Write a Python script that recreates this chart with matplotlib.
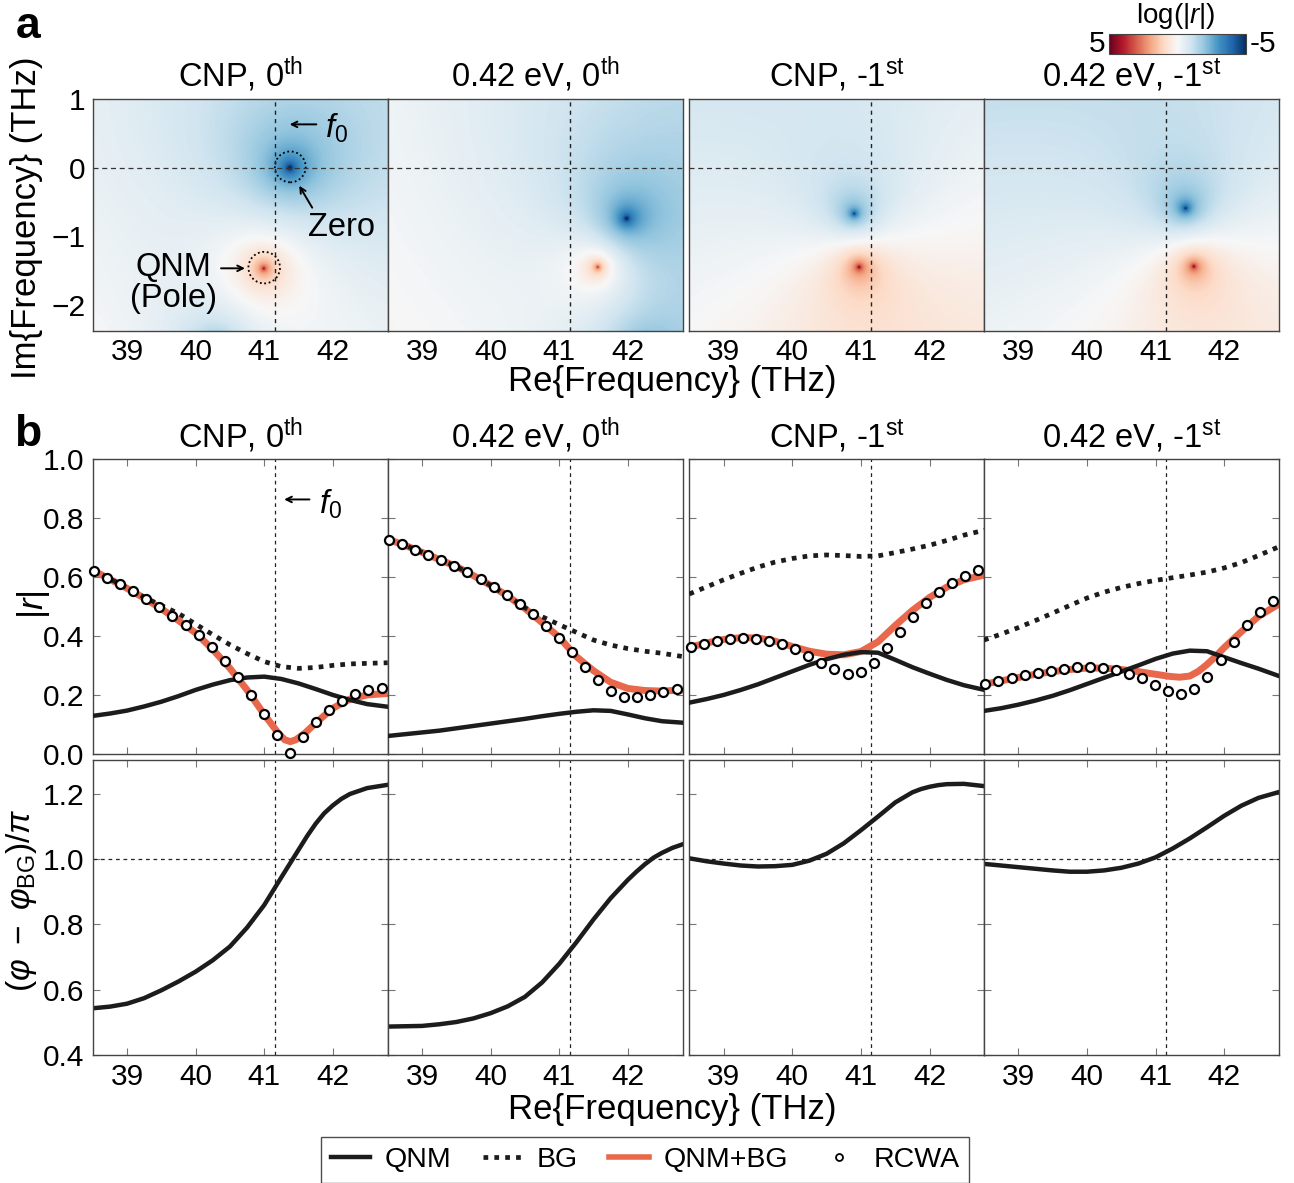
import numpy as np
import matplotlib.pyplot as plt
from matplotlib.lines import Line2D
from matplotlib.patches import Ellipse
from matplotlib.cm import ScalarMappable
from matplotlib.colors import Normalize

plt.rcParams['font.family'] = 'Liberation Sans'
plt.rcParams['mathtext.fontset'] = 'custom'
plt.rcParams['mathtext.rm'] = 'Liberation Sans'
plt.rcParams['mathtext.it'] = 'Liberation Sans:italic'
plt.rcParams['mathtext.bf'] = 'Liberation Sans:bold'

titles = ['CNP, 0$^{\\rm th}$', '0.42 eV, 0$^{\\rm th}$',
          'CNP, -1$^{\\rm st}$', '0.42 eV, -1$^{\\rm st}$']
f0 = 41.15

# complex-plane zeros and QNM poles (THz)
zeros_re = [41.37, 41.98, 40.91, 41.44]
zeros_im = [0.0, -0.74, -0.67, -0.59]
poles_re = [40.99, 41.56, 40.98, 41.56]
poles_im = [-1.47, -1.45, -1.45, -1.44]
# weaker zero/pole pairs sitting just below the plotted window
extra_zeros = [[40.3 - 2.65j], [42.25 - 2.8j], [], []]
extra_poles = [[40.3 - 4.6j], [42.25 - 4.6j], [], []]
bg_level = [-0.15, -0.3, -0.3, -0.6]
bg_slope_re = [-0.1, -0.15, 0.1, 0.1]
bg_slope_im = [0.0, 0.0, -0.17, -0.2]

# spectra on the real axis
freq = [38.5, 38.75, 39.0, 39.25, 39.5, 39.75, 40.0, 40.25, 40.5, 40.75,
        41.0, 41.25, 41.5, 41.75, 42.0, 42.25, 42.5, 42.8]

qnm_r = [
    [0.129, 0.137, 0.147, 0.161, 0.177, 0.196, 0.217, 0.235, 0.250, 0.259,
     0.262, 0.254, 0.239, 0.220, 0.200, 0.183, 0.169, 0.160],
    [0.061, 0.067, 0.073, 0.079, 0.087, 0.095, 0.103, 0.111, 0.119, 0.128,
     0.136, 0.143, 0.148, 0.146, 0.134, 0.121, 0.111, 0.106],
    [0.174, 0.186, 0.200, 0.217, 0.236, 0.258, 0.280, 0.302, 0.321, 0.336,
     0.345, 0.343, 0.319, 0.294, 0.272, 0.251, 0.233, 0.217],
    [0.146, 0.155, 0.167, 0.181, 0.197, 0.216, 0.237, 0.258, 0.279, 0.300,
     0.322, 0.340, 0.350, 0.348, 0.328, 0.308, 0.289, 0.264],
]
bg_r = [
    [0.622, 0.593, 0.563, 0.531, 0.503, 0.476, 0.440, 0.404, 0.370, 0.340,
     0.313, 0.296, 0.290, 0.293, 0.300, 0.305, 0.307, 0.309],
    [0.727, 0.707, 0.683, 0.659, 0.635, 0.604, 0.571, 0.535, 0.495, 0.465,
     0.438, 0.412, 0.386, 0.369, 0.357, 0.348, 0.341, 0.330],
    [0.542, 0.566, 0.590, 0.612, 0.633, 0.650, 0.662, 0.671, 0.674, 0.672,
     0.669, 0.671, 0.682, 0.694, 0.707, 0.723, 0.741, 0.758],
    [0.386, 0.406, 0.428, 0.452, 0.477, 0.503, 0.528, 0.548, 0.564, 0.577,
     0.588, 0.597, 0.606, 0.616, 0.630, 0.648, 0.672, 0.702],
]
sum_freq = [
    [38.5, 38.75, 39.0, 39.25, 39.5, 39.75, 40.0, 40.25, 40.5, 40.75, 41.0,
     41.2, 41.3, 41.38, 41.46, 41.6, 41.75, 42.0, 42.25, 42.5, 42.8],
    freq,
    freq,
    [38.5, 38.75, 39.0, 39.25, 39.5, 39.75, 40.0, 40.25, 40.5, 40.75, 41.0,
     41.2, 41.35, 41.5, 41.625, 41.75, 41.875, 42.0, 42.25, 42.5, 42.8],
]
sum_r = [
    [0.622, 0.592, 0.561, 0.528, 0.492, 0.452, 0.410, 0.354, 0.290, 0.217,
     0.134, 0.072, 0.048, 0.042, 0.048, 0.072, 0.105, 0.155, 0.186, 0.200,
     0.205],
    [0.727, 0.707, 0.683, 0.659, 0.635, 0.604, 0.571, 0.535, 0.493, 0.445,
     0.395, 0.330, 0.282, 0.243, 0.222, 0.215, 0.213, 0.217],
    [0.361, 0.376, 0.388, 0.394, 0.393, 0.382, 0.364, 0.348, 0.338, 0.336,
     0.347, 0.380, 0.435, 0.486, 0.530, 0.565, 0.590, 0.606],
    [0.236, 0.248, 0.259, 0.270, 0.279, 0.286, 0.291, 0.291, 0.286, 0.279,
     0.270, 0.263, 0.260, 0.264, 0.280, 0.303, 0.330, 0.360, 0.414, 0.466,
     0.508],
]

rcwa_freq = np.linspace(38.52, 42.71, 23)
rcwa_r = [
    [0.621, 0.597, 0.575, 0.551, 0.525, 0.498, 0.468, 0.437, 0.403, 0.361,
     0.315, 0.262, 0.201, 0.134, 0.065, 0.005, 0.056, 0.107, 0.149, 0.180,
     0.203, 0.218, 0.222],
    [0.725, 0.710, 0.692, 0.675, 0.656, 0.638, 0.615, 0.591, 0.565, 0.538,
     0.507, 0.473, 0.435, 0.393, 0.344, 0.296, 0.249, 0.213, 0.194, 0.192,
     0.200, 0.211, 0.221],
    [0.363, 0.373, 0.383, 0.389, 0.392, 0.390, 0.384, 0.373, 0.357, 0.333,
     0.308, 0.287, 0.271, 0.279, 0.309, 0.359, 0.414, 0.464, 0.511, 0.549,
     0.580, 0.604, 0.622],
    [0.237, 0.247, 0.258, 0.266, 0.275, 0.282, 0.289, 0.293, 0.296, 0.292,
     0.284, 0.271, 0.257, 0.233, 0.213, 0.203, 0.219, 0.262, 0.318, 0.378,
     0.436, 0.482, 0.519],
]

phase_freq = [
    [38.5, 38.75, 39.0, 39.25, 39.5, 39.75, 40.0, 40.25, 40.5, 40.75, 41.0,
     41.25, 41.5, 41.625, 41.75, 41.875, 42.0, 42.125, 42.25, 42.5, 42.8],
    [38.5, 38.75, 39.0, 39.25, 39.5, 39.75, 40.0, 40.25, 40.5, 40.75, 41.0,
     41.25, 41.5, 41.75, 42.0, 42.125, 42.25, 42.375, 42.5, 42.65, 42.8],
    [38.5, 38.75, 39.0, 39.25, 39.5, 39.75, 40.0, 40.25, 40.5, 40.75, 41.0,
     41.25, 41.5, 41.75, 41.875, 42.0, 42.125, 42.25, 42.5, 42.8],
    freq,
]
phase = [
    [0.543, 0.548, 0.557, 0.574, 0.598, 0.625, 0.655, 0.690, 0.732, 0.790,
     0.859, 0.944, 1.028, 1.070, 1.108, 1.140, 1.164, 1.184, 1.199, 1.217,
     1.227],
    [0.487, 0.488, 0.489, 0.494, 0.501, 0.512, 0.528, 0.549, 0.578, 0.622,
     0.679, 0.745, 0.815, 0.880, 0.936, 0.961, 0.984, 1.004, 1.019, 1.034,
     1.045],
    [1.002, 0.993, 0.986, 0.980, 0.977, 0.978, 0.982, 0.995, 1.016, 1.048,
     1.088, 1.130, 1.173, 1.204, 1.214, 1.221, 1.226, 1.229, 1.230, 1.223],
    [0.985, 0.980, 0.975, 0.970, 0.965, 0.961, 0.961, 0.965, 0.973, 0.986,
     1.005, 1.032, 1.063, 1.097, 1.132, 1.163, 1.187, 1.205],
]

orange = '#E9684B'
dark = '#1c1c1c'
frame = '#444444'
fs_tick = 21.5
fs_title = 23.5
fs_label = 25

W, H = 1294, 1183
fig = plt.figure(figsize=(W / 100, H / 100), dpi=100)


def px_axes(left, top, width, height):
    return fig.add_axes([left / W, 1 - (top + height) / H, width / W, height / H])


lefts = [92.7, 387.7, 689.4, 984.0]
pw = 295.0
xlim = (38.5, 42.8)


def style(ax, inward=True):
    for s in ax.spines.values():
        s.set_color(frame)
        s.set_linewidth(1.0)
    ax.set_xlim(*xlim)
    ax.set_xticks([39, 40, 41, 42])
    if inward:
        ax.tick_params(direction='in', top=True, right=True, length=5,
                       width=0.8, color='#777777', labelsize=fs_tick, pad=6)
    else:
        ax.tick_params(length=0, labelsize=fs_tick, pad=5)


# ---- row a: log|r| in the complex frequency plane
re = np.linspace(38.5, 42.8, 520)
im = np.linspace(-2.38, 1.0, 410)
RE, IM = np.meshgrid(re, im)
F = RE + 1j * IM
top_axes = []
for i in range(4):
    ax = px_axes(lefts[i], 99, pw, 231.7)
    z = zeros_re[i] + 1j * zeros_im[i]
    p = poles_re[i] + 1j * poles_im[i]
    logr = (bg_level[i] + bg_slope_re[i] * (RE - 40.65) + bg_slope_im[i] * IM
            + np.log(np.maximum(np.abs(F - z), 1e-6))
            - np.log(np.maximum(np.abs(F - p), 1e-6)))
    for z2, p2 in zip(extra_zeros[i], extra_poles[i]):
        logr += np.log(np.abs(F - z2)) - np.log(np.abs(F - p2))
    ax.imshow(logr, extent=(38.5, 42.8, -2.38, 1.0), origin='lower',
              cmap='RdBu_r', vmin=-5, vmax=5, aspect='auto',
              interpolation='bilinear')
    ax.axvline(f0, color='#222222', ls=(0, (3, 3)), lw=1.0)
    ax.axhline(0, color='#333333', ls=(0, (4, 3)), lw=0.9)
    style(ax, inward=False)
    ax.set_ylim(-2.38, 1.0)
    ax.set_yticks([-2, -1, 0, 1])
    if i > 0:
        ax.set_yticklabels([])
    ax.set_title(titles[i], fontsize=fs_title, pad=9)
    top_axes.append(ax)

ax = top_axes[0]
ax.add_patch(Ellipse((41.38, 0.01), 0.45, 0.45, fill=False, ls=(0, (1, 1.5)),
                     lw=1.3, color='black'))
ax.add_patch(Ellipse((41.0, -1.46), 0.46, 0.46, fill=False, ls=(0, (1, 1.5)),
                     lw=1.3, color='black'))
ax.annotate('', xy=(41.33, 0.63), xytext=(41.8, 0.63),
            arrowprops=dict(arrowstyle='->', lw=1.4, color='black'))
ax.text(41.88, 0.57, '$f_0$', fontsize=fs_title, ha='left', va='center')
ax.annotate('', xy=(41.49, -0.23), xytext=(41.72, -0.62),
            arrowprops=dict(arrowstyle='->', lw=1.4, color='black'))
ax.text(42.12, -0.88, 'Zero', fontsize=fs_title, ha='center', va='center')
ax.annotate('', xy=(40.76, -1.47), xytext=(40.33, -1.47),
            arrowprops=dict(arrowstyle='->', lw=1.4, color='black'))
ax.text(39.68, -1.68, 'QNM\n(Pole)', fontsize=fs_title, ha='center',
        va='center', linespacing=1.0)

# colour bar
cax = fig.add_axes([1109 / W, 1 - 54 / H, 137 / W, 20 / H])
cb = fig.colorbar(ScalarMappable(norm=Normalize(-5, 5), cmap='RdBu_r'),
                  cax=cax, orientation='horizontal')
cb.set_ticks([])
cax.invert_xaxis()
cb.outline.set_edgecolor(frame)
fig.text(1097 / W, 1 - 44 / H, '5', fontsize=fs_tick, ha='center', va='center')
fig.text(1263 / W, 1 - 44 / H, '-5', fontsize=fs_tick, ha='center', va='center')
fig.text(1176 / W, 1 - 16 / H, 'log(|$\\it{r}$|)', fontsize=20,
         ha='center', va='center')

# ---- row b: |r| spectra
mid_axes = []
for i in range(4):
    ax = px_axes(lefts[i], 458.7, pw, 295.3)
    ax.axvline(f0, color='#222222', ls=(0, (3, 3)), lw=0.9)
    ax.plot(freq, bg_r[i], color=dark, lw=3.4, ls=(0, (1, 1.3)), zorder=3)
    ax.plot(sum_freq[i], sum_r[i], color=orange, lw=5, zorder=2,
            solid_capstyle='butt')
    ax.plot(freq, qnm_r[i], color=dark, lw=3.2, zorder=3)
    ax.plot(rcwa_freq, rcwa_r[i], 'o', ms=6.5, mfc='white', mec='black',
            mew=1.6, zorder=4, clip_on=False)
    style(ax)
    ax.set_ylim(0, 1.0)
    ax.set_yticks(np.arange(0, 1.01, 0.2))
    ax.set_xticklabels([])
    if i == 0:
        ax.set_yticklabels(['0.0', '0.2', '0.4', '0.6', '0.8', '1.0'])
    else:
        ax.set_yticklabels([])
    ax.set_title(titles[i], fontsize=fs_title, pad=8)
    mid_axes.append(ax)

ax = mid_axes[0]
ax.annotate('', xy=(41.25, 0.862), xytext=(41.7, 0.862),
            arrowprops=dict(arrowstyle='->', lw=1.4, color='black'))
ax.text(41.8, 0.845, '$f_0$', fontsize=fs_title, ha='left', va='center')

# ---- phase relative to background
bot_axes = []
for i in range(4):
    ax = px_axes(lefts[i], 760, pw, 295)
    ax.axvline(f0, color='#222222', ls=(0, (3, 3)), lw=0.9)
    ax.axhline(1.0, color='#222222', ls=(0, (3, 3)), lw=0.9)
    ax.plot(phase_freq[i], phase[i], color=dark, lw=3.2)
    style(ax)
    ax.set_ylim(0.4, 1.303)
    ax.set_yticks([0.4, 0.6, 0.8, 1.0, 1.2])
    if i == 0:
        ax.set_yticklabels(['0.4', '0.6', '0.8', '1.0', '1.2'])
    else:
        ax.set_yticklabels([])
    bot_axes.append(ax)

# axis labels and panel letters
fig.text(672 / W, 1 - 382 / H, 'Re{Frequency} (THz)', fontsize=fs_label,
         ha='center', va='center')
fig.text(672 / W, 1 - 1110 / H, 'Re{Frequency} (THz)', fontsize=fs_label,
         ha='center', va='center')
fig.text(27 / W, 1 - 218 / H, 'Im{Frequency} (THz)', fontsize=fs_label,
         ha='center', va='center', rotation=90)
fig.text(34 / W, 1 - 605 / H, '|$\\it{r}$|', fontsize=fs_label,
         ha='center', va='center', rotation=90)
fig.text(22 / W, 1 - 900 / H, '$(\\varphi\\ -\\ \\varphi_{\\rm BG})/\\pi$',
         fontsize=24, ha='center', va='center', rotation=90)
fig.text(28 / W, 1 - 26 / H, 'a', fontsize=32, fontweight='bold',
         ha='center', va='center')
fig.text(28 / W, 1 - 434 / H, 'b', fontsize=32, fontweight='bold',
         ha='center', va='center')

handles = [
    Line2D([], [], color=dark, lw=3.2),
    Line2D([], [], color=dark, lw=3.4, ls=(0, (1, 1.3))),
    Line2D([], [], color=orange, lw=4),
    Line2D([], [], ls='none', marker='o', ms=5, mfc='white', mec='black',
           mew=1.3),
]
leg = fig.legend(handles, ['QNM', 'BG', 'QNM+BG', 'RCWA'], loc='center',
                 bbox_to_anchor=(645 / W, 1 - 1160 / H), ncol=4,
                 fontsize=20.5, frameon=True, fancybox=False,
                 handlelength=1.4, columnspacing=1.1, handletextpad=0.5,
                 borderpad=0.35)
leg.get_frame().set_edgecolor('#222222')
leg.get_frame().set_linewidth(1.0)

fig.savefig('out.png', dpi=100)
